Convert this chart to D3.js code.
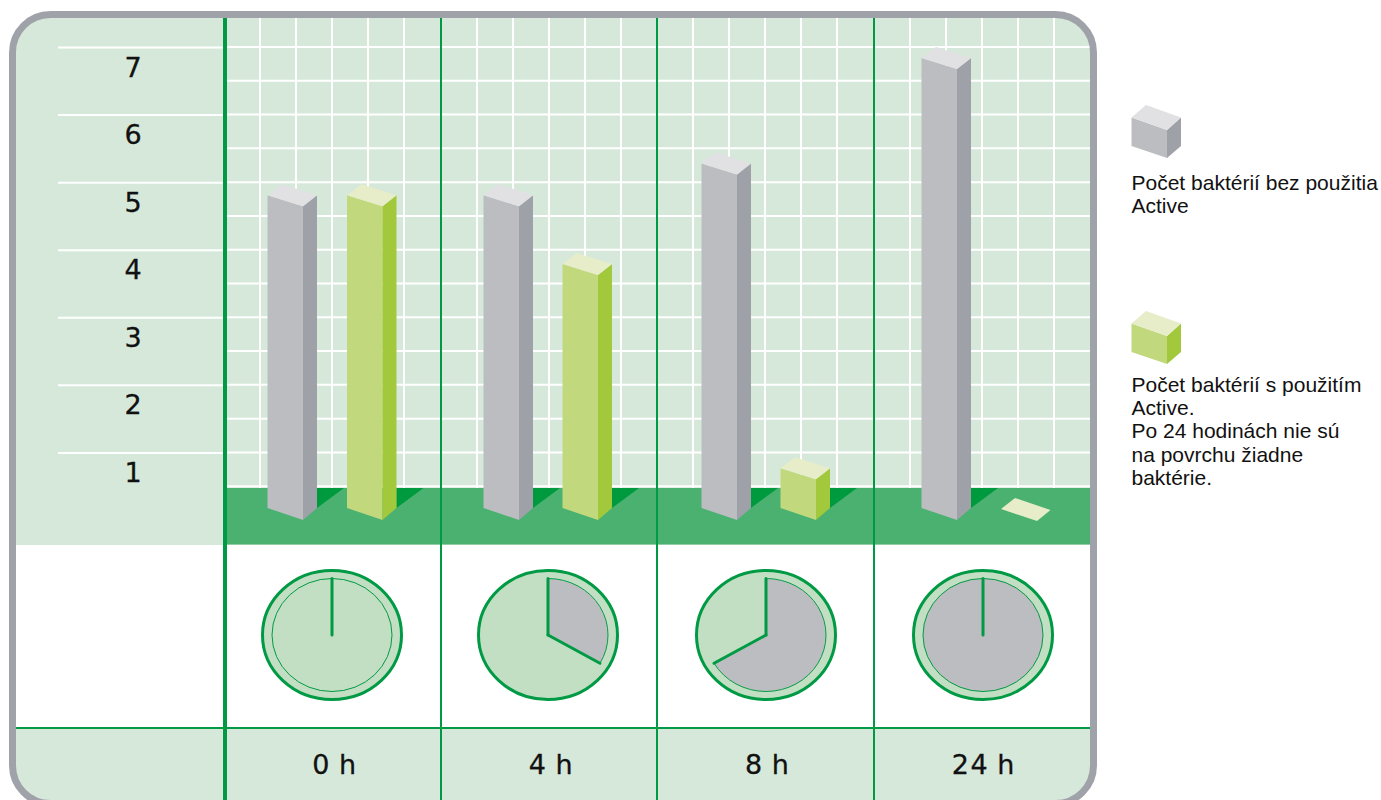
<!DOCTYPE html>
<html>
<head>
<meta charset="utf-8">
<script src="https://cdn.jsdelivr.net/npm/d3@7"></script>
<style>
  html, body { margin: 0; padding: 0; background: #fff; overflow: hidden; }
  svg { display: block; }
</style>
</head>
<body>
<script>
// values
var times = ["0 h", "4 h", "8 h", "24 h"];
var hours = [0, 4, 8, 24];
var withoutActive = [4.97, 4.97, 5.44, 7];
var withActive = [4.97, 3.95, 0.93, 0];
var yTicks = [1, 2, 3, 4, 5, 6, 7];
var legendGrey = ["Počet baktérií bez použitia", "Active"];
var legendGreen = ["Počet baktérií s použitím", "Active.", "Po 24 hodinách nie sú", "na povrchu žiadne", "baktérie."];

var w = 1381;
var h = 800;

var grey = { front: "#bcbdc1", side: "#9fa1a9", top: "#e1e1e3" };
var green = { front: "#c1d97c", side: "#a2c83b", top: "#e6edc8" };
var paleBg = "#d6e8da";
var lineGreen = "#009a44";
var bandGreen = "#4ab170";
var frameGrey = "#a0a2aa";

var svg = d3.select("body")
  .append("svg")
  .attr("width", w)
  .attr("height", h);

var x = d3.scaleBand().domain(times).range([224.9, 1090]);
var y = d3.scaleLinear().domain([0, 7]).range([520, 47]);

// front edge of the bars in each column
var greyFront = d3.scaleOrdinal().domain(times).range([303, 519, 737, 957]);
var greenFront = d3.scaleOrdinal().domain(times).range([382.5, 598, 816, 1037]);

var clockAngle = d3.scaleLinear().domain([0, 12]).range([0, 2 * Math.PI]).clamp(true);

var clipId = "frameClip";
svg.append("clipPath").attr("id", clipId)
  .append("rect")
  .attr("x", 12.5).attr("y", 14.5)
  .attr("width", 1081).attr("height", 789)
  .attr("rx", 38).attr("ry", 38);

var plot = svg.append("g").attr("clip-path", "url(#" + clipId + ")");

// backgrounds
plot.append("rect").attr("x", 12).attr("y", 14).attr("width", 1082).attr("height", 531).attr("fill", paleBg);
plot.append("rect").attr("x", 12).attr("y", 545).attr("width", 1082).attr("height", 183).attr("fill", "#fff");
plot.append("rect").attr("x", 12).attr("y", 728).attr("width", 1082).attr("height", 80).attr("fill", paleBg);

// white grid
plot.selectAll("line.hgrid")
  .data(y.ticks(14).filter(function(d) { return d > 0; }))
  .enter()
  .append("line")
  .attr("class", "hgrid")
  .attr("x1", 225)
  .attr("x2", 1091)
  .attr("y1", function(d) { return y(d); })
  .attr("y2", function(d) { return y(d); })
  .attr("stroke", "#fff")
  .attr("stroke-width", 2);

times.forEach(function(t, i) {
  var left = Math.round(x(t)) - (i == 0 ? 1 : 0);
  d3.range(1, 6).forEach(function(k) {
    plot.append("line")
      .attr("x1", left + k * 36)
      .attr("x2", left + k * 36)
      .attr("y1", 14)
      .attr("y2", 488)
      .attr("stroke", "#fff")
      .attr("stroke-width", 2);
  });
});

// floor
plot.append("rect").attr("x", 224).attr("y", 488).attr("width", 870).attr("height", 56.5).attr("fill", bandGreen);

// separators
plot.append("line")
  .attr("x1", 12).attr("x2", 1094)
  .attr("y1", 728).attr("y2", 728)
  .attr("stroke", lineGreen).attr("stroke-width", 2);

plot.selectAll("line.col")
  .data(times)
  .enter()
  .append("line")
  .attr("class", "col")
  .attr("x1", function(d) { return Math.round(x(d)); })
  .attr("x2", function(d) { return Math.round(x(d)); })
  .attr("y1", 14)
  .attr("y2", 808)
  .attr("stroke", lineGreen)
  .attr("stroke-width", function(d, i) { return i == 0 ? 4 : 2; });

// y axis, labels sit under their grid line
var yAxis = d3.axisLeft(y).tickValues(yTicks).tickSize(165).tickPadding(0).tickFormat(d3.format("d"));
var yg = plot.append("g").attr("transform", "translate(223,0)").call(yAxis);
yg.select(".domain").remove();
yg.selectAll(".tick line").attr("stroke", "#fff").attr("stroke-width", 2);
yg.selectAll(".tick text")
  .attr("x", -90)
  .attr("dy", 29)
  .attr("text-anchor", "middle")
  .attr("font-family", "DejaVu Sans")
  .attr("font-size", 27)
  .attr("fill", "#111")
  .attr("stroke", "#111")
  .attr("stroke-width", 0.3);

// x axis
var xAxis = d3.axisBottom(x).tickSize(0).tickPadding(0);
var xg = plot.append("g").attr("transform", "translate(2,774)").call(xAxis);
xg.select(".domain").remove();
xg.selectAll(".tick text")
  .attr("dy", 0)
  .attr("y", 0)
  .attr("font-family", "DejaVu Sans")
  .attr("font-size", 27)
  .attr("letter-spacing", 1.5)
  .attr("word-spacing", -2)
  .attr("fill", "#111")
  .attr("stroke", "#111")
  .attr("stroke-width", 0.3);

// box made of three faces, (fx, by) is the bottom front corner, ft the front top
function box(parent, fx, by, ft, colors, tilt) {
  var faces = [
    { c: colors.front, p: [[fx - 35.5, by - 12], [fx, by], [fx, ft], [fx - 35.5, ft - 11 * tilt]] },
    { c: colors.side, p: [[fx, by], [fx + 14, by - 12], [fx + 14, ft - 11 * tilt], [fx, ft]] },
    { c: colors.top, p: [[fx - 35.5, ft - 11 * tilt], [fx, ft], [fx + 14, ft - 11 * tilt], [fx - 21, ft - 22 * tilt]] }
  ];
  parent.selectAll(null)
    .data(faces)
    .enter()
    .append("polygon")
    .attr("points", function(d) { return d.p.join(" "); })
    .attr("fill", function(d) { return d.c; });
}

// dark shadow next to a bar
function shadow(fx) {
  plot.append("polygon")
    .attr("points", [[fx + 14, 488], [fx + 41, 488], [fx + 14, 508]].join(" "))
    .attr("fill", "#009a3e");
}

times.forEach(function(t, i) {
  shadow(greyFront(t));
  box(plot, greyFront(t), y(0), y(withoutActive[i]) + 22, grey, 1);
  if (withActive[i] > 0) {
    shadow(greenFront(t));
    box(plot, greenFront(t), y(0), y(withActive[i]) + 22, green, 1);
  } else {
    // nothing left, only the flat top on the floor
    var fx = greenFront(t);
    plot.append("polygon")
      .attr("points", [[fx - 36, 509], [fx, 521], [fx + 13.5, 510], [fx - 22, 498]].join(" "))
      .attr("fill", green.top);
  }
});

// clocks
var clockRx = 69.5, clockRy = 64.5, innerRx = 60, innerRy = 56.5;
var clockCx = d3.scaleOrdinal().domain(times).range([332, 548, 766, 983]);

times.forEach(function(t, i) {
  var g = plot.append("g").attr("transform", "translate(" + clockCx(t) + ",635)");
  var a = clockAngle(hours[i]);

  g.append("ellipse")
    .attr("rx", clockRx).attr("ry", clockRy)
    .attr("fill", "#c2dfc3")
    .attr("stroke", lineGreen).attr("stroke-width", 3);

  if (a == 0 || a >= 2 * Math.PI) {
    g.append("ellipse")
      .attr("rx", innerRx).attr("ry", innerRy)
      .attr("fill", a == 0 ? "#c2dfc3" : grey.front)
      .attr("stroke", lineGreen).attr("stroke-width", 1);
  } else {
    var arc = d3.arc().innerRadius(0).outerRadius(innerRx).startAngle(0).endAngle(a);
    g.append("path")
      .attr("d", arc())
      .attr("transform", "scale(1," + (innerRy / innerRx) + ")")
      .attr("fill", grey.front)
      .attr("stroke", lineGreen).attr("stroke-width", 1);
  }

  // hands
  var ends = a == 0 || a >= 2 * Math.PI ? [0] : [0, a];
  ends.forEach(function(e) {
    g.append("line")
      .attr("x1", 0).attr("y1", 0)
      .attr("x2", Math.sin(e) * innerRx)
      .attr("y2", -Math.cos(e) * innerRy)
      .attr("stroke", lineGreen)
      .attr("stroke-width", 3)
      .attr("stroke-linecap", "round");
  });
});

// frame
svg.append("rect")
  .attr("x", 12.5).attr("y", 14.5)
  .attr("width", 1081).attr("height", 789)
  .attr("rx", 38).attr("ry", 38)
  .attr("fill", "none")
  .attr("stroke", frameGrey)
  .attr("stroke-width", 7);

// legend
function legend(cubeY, textY, lines, colors) {
  box(svg, 1167, cubeY, cubeY - 28, colors, 1.14);
  svg.selectAll(null)
    .data(lines)
    .enter()
    .append("text")
    .attr("x", 1131.5)
    .attr("y", function(d, i) { return textY + i * 23.2; })
    .attr("font-family", "Liberation Sans")
    .attr("font-size", 21)
    .attr("fill", "#111")
    .text(function(d) { return d; });
}
legend(158, 190, legendGrey, grey);
legend(364, 392, legendGreen, green);
</script>
</body>
</html>
